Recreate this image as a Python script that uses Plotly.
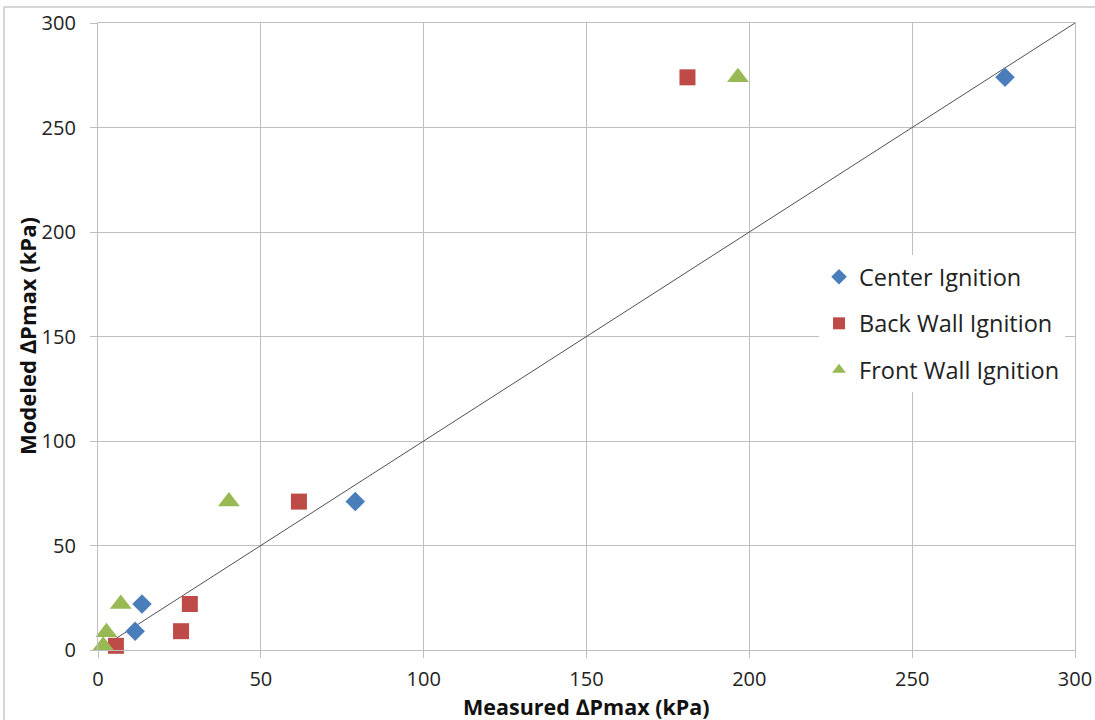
import plotly.graph_objects as go

# Data (kPa)
center_x = [278.5, 79.0, 13.5, 11.4]
center_y = [274.0, 71.0, 22.0, 9.0]

back_x = [181.0, 61.7, 28.2, 25.5, 5.5]
back_y = [274.0, 71.0, 22.0, 9.0, 2.0]

front_x = [196.5, 40.2, 7.0, 2.6, 1.6]
front_y = [274.0, 71.0, 22.0, 8.5, 2.0]

line_x = [0, 300]
line_y = [0, 300]

tick_vals = [0, 50, 100, 150, 200, 250, 300]

BLUE = "#4A7EBB"
RED = "#BE4B48"
GREEN = "#98B954"
GRID = "#BEBEBE"
FONT = "Open Sans"

fig = go.Figure()

fig.add_trace(go.Scatter(x=line_x, y=line_y, mode="lines",
                         line=dict(color="#505050", width=1),
                         showlegend=False, hoverinfo="skip"))

fig.add_trace(go.Scatter(x=center_x, y=center_y, mode="markers", name="Center Ignition",
                         legendgroup="a", cliponaxis=False,
                         marker=dict(symbol="diamond", size=15, color=BLUE)))
fig.add_trace(go.Scatter(x=back_x, y=back_y, mode="markers", name="Back Wall Ignition",
                         legendgroup="b", cliponaxis=False,
                         marker=dict(symbol="square", size=16, color=RED)))
fig.add_trace(go.Scatter(x=front_x, y=front_y, mode="markers", name="Front Wall Ignition",
                         legendgroup="c", cliponaxis=False,
                         marker=dict(symbol="triangle-up", size=19, color=GREEN)))

axis_common = dict(
    range=[0, 300], tickvals=tick_vals, showgrid=True, gridcolor=GRID, gridwidth=1.3,
    showline=True, linecolor=GRID, linewidth=1.3, mirror=True,
    ticks="outside", ticklen=7, tickcolor=GRID, tickwidth=1.3,
    zeroline=False, automargin=False,
    tickfont=dict(family=FONT, size=20, color="#222222"),
)

fig.update_xaxes(**axis_common, ticklabelstandoff=4)
fig.update_yaxes(**axis_common, ticklabelstandoff=10)

L, T, W, H = 98, 23, 977, 627

fig.update_layout(
    width=1095, height=720,
    margin=dict(l=L, r=1095 - L - W, t=T, b=720 - T - H),
    plot_bgcolor="white", paper_bgcolor="white",
    font=dict(family=FONT),
    legend=dict(x=0.738, y=0.63, xanchor="left", yanchor="top",
                bgcolor="white", borderwidth=0,
                font=dict(family=FONT, size=23.5, color="#222222"),
                tracegroupgap=13, itemsizing="constant"),
    annotations=[
        dict(text="<b>Measured ∆Pmax (kPa)</b>", xref="paper", yref="paper",
             x=0.5, y=(T + H - 706) / H, xanchor="center", yanchor="middle",
             showarrow=False, font=dict(family=FONT, size=21.5, color="#111111")),
        dict(text="<b>Modeled ∆Pmax (kPa)</b>", xref="paper", yref="paper",
             x=(27 - L) / W, y=(T + H - 336) / H, xanchor="center", yanchor="middle",
             textangle=-90, showarrow=False,
             font=dict(family=FONT, size=22, color="#111111")),
    ],
    shapes=[
        dict(type="line", xref="paper", yref="paper",
             x0=(4 - L) / W, x1=(1095 - L) / W, y0=(T + H - 7) / H, y1=(T + H - 7) / H,
             line=dict(color="#C8C8C8", width=1.5)),
        dict(type="line", xref="paper", yref="paper",
             x0=(4 - L) / W, x1=(4 - L) / W, y0=(T + H - 7) / H, y1=(T + H - 720) / H,
             line=dict(color="#C8C8C8", width=1.5)),
    ],
)

fig.write_html("out.html", config={"displayModeBar": False},
               post_script="document.body.style.margin='0';")
